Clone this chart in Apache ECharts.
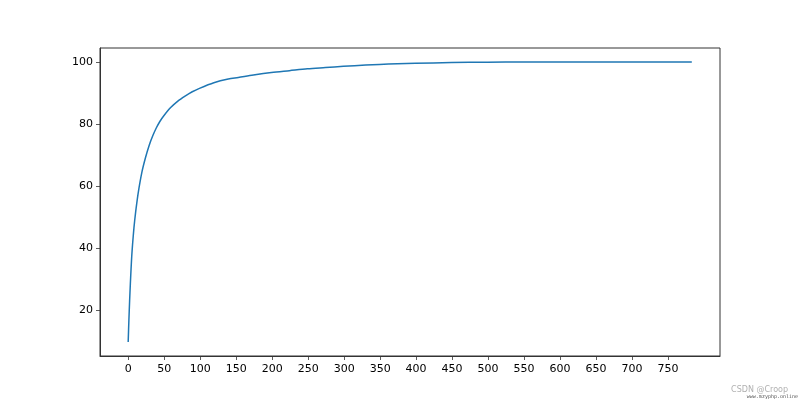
<!DOCTYPE html>
<html>
<head>
<meta charset="utf-8">
<script src="https://cdn.jsdelivr.net/npm/echarts@6/dist/echarts.min.js"></script>
<style>html,body{margin:0;padding:0;background:#fff}#c{width:800px;height:400px}</style>
</head>
<body>
<div id="c"></div>
<script>
// Component index (0-based) and cumulative explained variance (%)
var components = [0,1,2,3,4,5,6,7,8,9,11,14,19,24,29,34,39,44,49,59,69,79,89,99,119,139,153,174,199,224,249,274,299,330,349,374,399,449,499,549,599,649,699,783];
var cumVariance = [9.7,16.8,23.0,28.4,33.3,37.6,40.9,43.8,46.5,48.8,52.8,57.9,64.4,69.1,73.0,76.1,78.7,80.8,82.5,85.3,87.4,89.0,90.4,91.5,93.3,94.5,95.0,95.8,96.6,97.2,97.8,98.2,98.6,99.0,99.2,99.4,99.55,99.8,99.92,99.97,99.99,100,100,100];
var xTicks = [0,50,100,150,200,250,300,350,400,450,500,550,600,650,700,750];
var yTicks = [20,40,60,80,100];

var xMin = -39.15, xMax = 822.15, yMin = 5.2, yMax = 104.5;
var data = components.map(function (c, i) { return [c, cumVariance[i]]; });

var chart = echarts.init(document.getElementById('c'), null, {renderer: 'canvas'});
var font = {fontFamily: 'DejaVu Sans', fontSize: 11, color: '#000'};
chart.setOption({
  animation: false,
  backgroundColor: '#fff',
  grid: {left: 100, right: 80, top: 48, bottom: 44, show: true, borderColor: '#333', borderWidth: 1, backgroundColor: 'transparent'},
  xAxis: {
    type: 'value', min: xMin, max: xMax,
    splitLine: {show: false},
    axisLine: {show: true, onZero: false, lineStyle: {color: '#333', width: 1}},
    axisTick: {show: true, length: 4, lineStyle: {color: '#333', width: 0.8}, customValues: xTicks},
    axisLabel: Object.assign({margin: 8, customValues: xTicks}, font)
  },
  yAxis: {
    type: 'value', min: yMin, max: yMax,
    splitLine: {show: false},
    axisLine: {show: true, onZero: false, lineStyle: {color: '#333', width: 1}},
    axisTick: {show: true, length: 4, lineStyle: {color: '#333', width: 0.8}, customValues: yTicks},
    axisLabel: Object.assign({margin: 7, customValues: yTicks}, font)
  },
  series: [{
    type: 'line', data: data, smooth: 0.3, showSymbol: false,
    lineStyle: {color: '#1f77b4', width: 1.5}
  }],
  graphic: [
    {type: 'text', right: 12, top: 386, style: {text: 'CSDN @Croop', fill: '#b0b0b0', fontSize: 8, fontFamily: 'DejaVu Sans'}},
    {type: 'text', right: 2, top: 394, style: {text: 'www.mzyphp.online', fill: '#555', fontSize: 5, fontFamily: 'DejaVu Sans Mono'}}
  ]
});
</script>
</body>
</html>
